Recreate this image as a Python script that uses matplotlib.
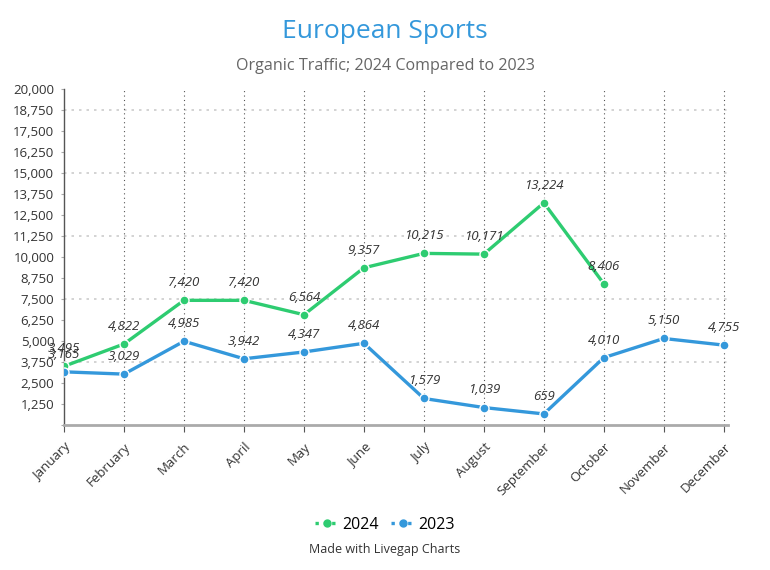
import numpy as np
import matplotlib.pyplot as plt
import matplotlib.ticker as ticker
from matplotlib.lines import Line2D

plt.rcParams['font.family'] = ['Open Sans', 'DejaVu Sans']

months = ['January', 'February', 'March', 'April', 'May', 'June', 'July',
          'August', 'September', 'October', 'November', 'December']
traffic_2024 = [3495, 4822, 7420, 7420, 6564, 9357, 10215, 10171, 13224, 8406, np.nan, np.nan]
traffic_2023 = [3165, 3029, 4985, 3942, 4347, 4864, 1579, 1039, 659, 4010, 5150, 4755]

green = '#2ecc71'
blue = '#3498db'

fig = plt.figure(figsize=(7.7, 5.7), dpi=100)
ax = fig.add_axes([64 / 770, 1 - 425 / 570, 664 / 770, 336 / 570])

x = np.arange(len(months))
for vals, col in [(traffic_2024, green), (traffic_2023, blue)]:
    ax.plot(x, vals, color=col, linewidth=2.4, marker='o', markersize=6.5,
            markeredgecolor='white', markeredgewidth=1.0, zorder=3)
    for xi, v in zip(x, vals):
        if np.isnan(v):
            continue
        ax.annotate(f'{int(v):,}', (xi, v), xytext=(0, 8), textcoords='offset points',
                    ha='center', va='bottom', fontsize=9.5, style='italic', color='#333333')

ax.set_xlim(0, 11.07)
ax.set_ylim(0, 20000)
ax.yaxis.set_major_locator(ticker.MultipleLocator(1250))
ax.yaxis.set_major_formatter(ticker.FuncFormatter(lambda v, p: f'{int(v):,}' if v > 0 else ''))
ax.set_xticks(x)
ax.set_xticklabels(months, rotation=45, ha='right', rotation_mode='anchor')

for yv in np.arange(3750, 20001, 3750):
    ax.axhline(yv, color='#cccccc', linestyle=(0, (1.5, 3)), linewidth=1.2, zorder=1)
for xi in x[1:]:
    ax.axvline(xi, color='#555555', linestyle=(0, (1, 3)), linewidth=0.8, zorder=1)

for s in ['top', 'right']:
    ax.spines[s].set_visible(False)
ax.spines['left'].set_color('#555555')
ax.spines['left'].set_linewidth(1.0)
ax.spines['bottom'].set_color('#aaaaaa')
ax.spines['bottom'].set_linewidth(2)

ax.tick_params(axis='y', length=2, color='#aaaaaa', labelsize=9.5, labelcolor='#333333', pad=5)
ax.tick_params(axis='x', length=5, color='#555555', labelsize=9.5, labelcolor='#333333', pad=6)

fig.text(0.5, 1 - 32 / 570, 'European Sports', ha='center', va='center', fontsize=19, color=blue)
fig.text(0.5, 1 - 66 / 570, 'Organic Traffic; 2024 Compared to 2023', ha='center', va='center',
         fontsize=11.6, color='#666666')

handles = [Line2D([], [], color=green, linestyle=(0, (1, 1.5)), linewidth=2.4, marker='o', markersize=5),
           Line2D([], [], color=blue, linestyle=(0, (1, 1.5)), linewidth=2.4, marker='o', markersize=5)]
fig.legend(handles, ['2024', '2023'], loc='center', bbox_to_anchor=(0.5, 1 - 525 / 570), ncol=2,
           frameon=False, fontsize=11.5, handlelength=1.5, handletextpad=0.2, columnspacing=0.8)
fig.text(0.5, 1 - 550 / 570, 'Made with Livegap Charts', ha='center', va='center', fontsize=9, color='#333333')

fig.savefig('out.png', dpi=100)
